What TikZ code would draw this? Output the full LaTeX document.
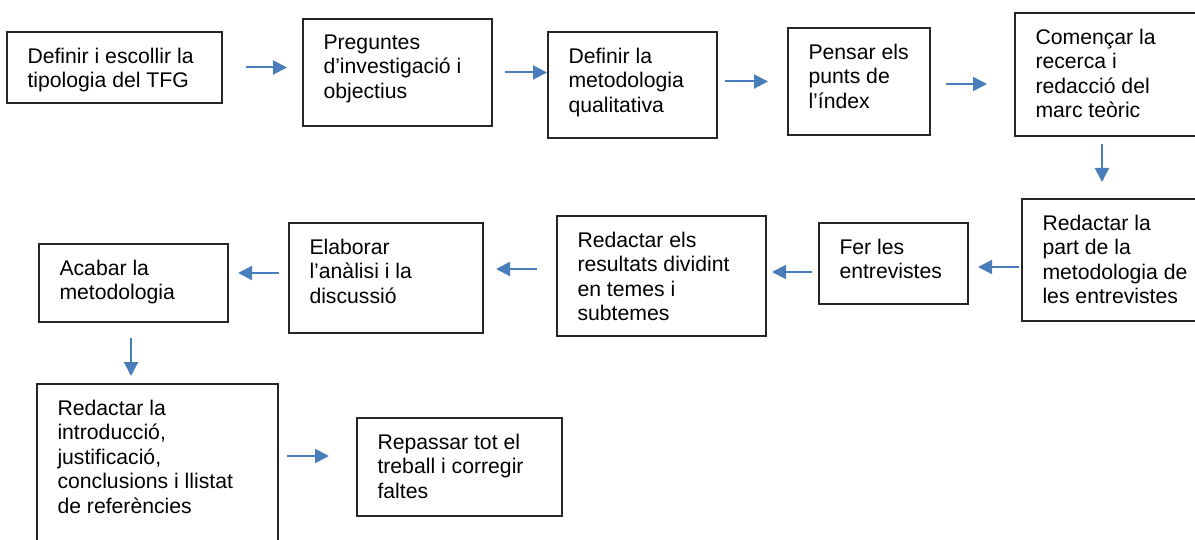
\documentclass[tikz,border=0pt]{standalone}
\usepackage{fontspec}
\setmainfont{Liberation Sans}
\usepackage{tikz}
\usetikzlibrary{calc}
\usetikzlibrary{arrows.meta}

\definecolor{flowblue}{HTML}{4A7EBB}

\tikzset{
  stepbox/.style={draw=black!85, line width=1.1pt, inner sep=0pt, outer sep=0pt, anchor=north west},
  steptext/.style={anchor=north west, inner sep=0pt, outer sep=0pt, align=left,
    font=\fontsize{21.2}{24.5}\selectfont},
  flow/.style={draw=flowblue, line width=2pt, -{Triangle[length=14pt,width=14pt]}}
}

\begin{document}
\begin{tikzpicture}[x=1pt, y=-1pt]
\useasboundingbox (0,0) rectangle (1195,540);

% boxes: name / left / top / right / bottom / text
\foreach \n/\xa/\ya/\xb/\yb/\txt in {
  b1/7/32/222/103/{Definir i escollir la\\tipologia del TFG},
  b2/303/19/492/126/{Preguntes\\d’investigació i\\objectius},
  b3/548/32/717/138/{Definir la\\metodologia\\qualitativa},
  b4/788/28/930/135/{Pensar els\\punts de\\l’índex},
  b5/1015/13/1197/136/{Començar la\\recerca i\\redacció del\\marc teòric},
  b6/1022/199/1197/321/{Redactar la\\part de la\\metodologia de\\les entrevistes},
  b7/819/223/968/304/{Fer les\\entrevistes},
  b8/557/216/766/336/{Redactar els\\resultats dividint\\en temes i\\subtemes},
  b9/289/223/483/333/{Elaborar\\l’anàlisi i la\\discussió},
  b10/39/244/228/322/{Acabar la\\metodologia},
  b11/37/384/278/546/{Redactar la\\introducció,\\justificació,\\conclusions i llistat\\de referències},
  b12/357/418/562/516/{Repassar tot el\\treball i corregir\\faltes}}
{
  \node[stepbox, minimum width={\xb-\xa}, minimum height={\yb-\ya}] (\n) at (\xa,\ya) {};
  \node[steptext] (\n t) at ($(\n.north west)+(20.5,15.7)$) {\txt};
}

% first row, left to right
\draw[flow] ([xshift=24pt]b1.east) -- ([xshift=-16pt]b1.east -| b2.west);
\draw[flow] ([xshift=13pt]b2.east) -- ([xshift=-1pt]b2.east -| b3.west);
\draw[flow] ([xshift=8pt]b3.east |- b4.west) -- ([xshift=-20pt]b4.west);
\draw[flow] ([xshift=16pt,yshift=-2.5pt]b4.east) -- ([xshift=-28pt,yshift=-2.5pt]b4.east -| b5.west);
\draw[flow] ([xshift=-4pt,yshift=-8pt]b5.south) -- ([xshift=-4pt,yshift=17pt]b5.south |- b6.north);

% second row, right to left
\draw[flow] ([xshift=-3pt,yshift=-3.5pt]b7.east -| b6.west) -- ([xshift=10pt,yshift=-3.5pt]b7.east);
\draw[flow] ([xshift=-7pt,yshift=4pt]b8.east -| b7.west) -- ([xshift=6pt,yshift=4pt]b8.east);
\draw[flow] ([xshift=-20pt,yshift=9pt]b9.east -| b8.west) -- ([xshift=13pt,yshift=9pt]b9.east);
\draw[flow] ([xshift=-10pt,yshift=10pt]b10.east -| b9.west) -- ([xshift=10pt,yshift=10pt]b10.east);
\draw[flow] ([xshift=-2.5pt,yshift=-16pt]b10.south) -- ([xshift=-2.5pt,yshift=8pt]b10.south |- b11.north);

% last row
\draw[flow] ([xshift=9pt,yshift=11pt]b12.west -| b11.east) -- ([xshift=-28pt,yshift=11pt]b12.west);
\end{tikzpicture}
\end{document}
